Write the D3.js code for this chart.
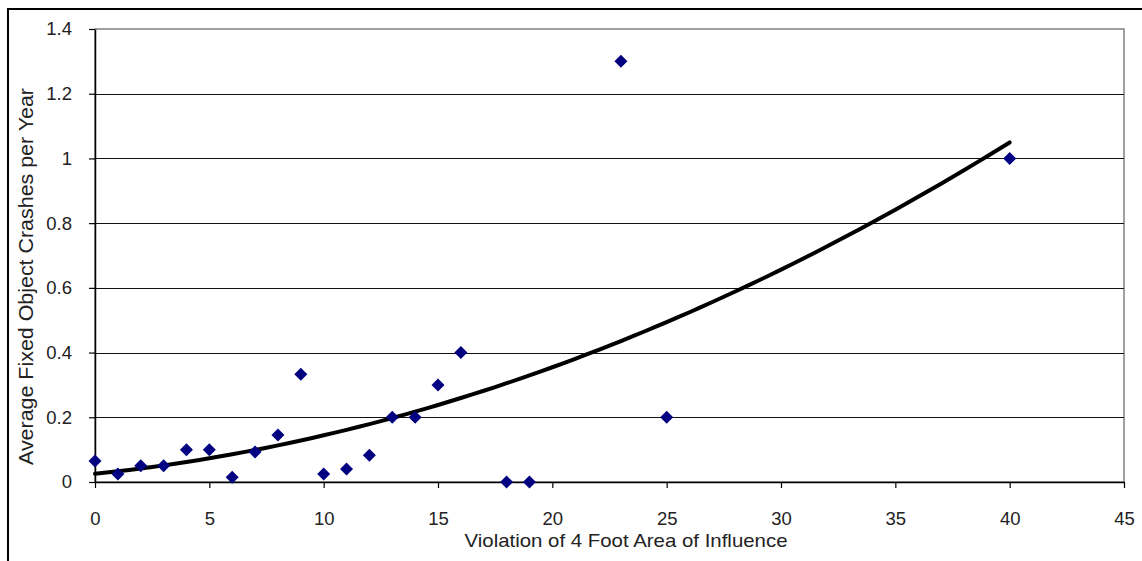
<!DOCTYPE html>
<html lang="en">
<head>
<meta charset="utf-8">
<title>Fixed Object Crashes</title>
<script src="https://d3js.org/d3.v7.min.js"></script>
<style>
  body { margin: 0; background: #fff; }
  text { font-family: "Liberation Sans", Arial, sans-serif; fill: #222; }
</style>
</head>
<body>
<svg width="1142" height="561"></svg>
<script>
// data
const violations = [0, 1, 2, 3, 4, 5, 6, 7, 8, 9, 10, 11, 12, 13, 14, 15, 16, 18, 19, 23, 25, 40];
const crashes = [0.065, 0.025, 0.05, 0.05, 0.1, 0.1, 0.015, 0.093, 0.145, 0.333, 0.025, 0.04,
                 0.083, 0.2, 0.2, 0.3, 0.4, 0, 0, 1.3, 0.2, 1.0];
const xTicks = [0, 5, 10, 15, 20, 25, 30, 35, 40, 45];
const yTicks = [0, 0.2, 0.4, 0.6, 0.8, 1, 1.2, 1.4];

const svg = d3.select("svg");
const plotL = 95, plotR = 1124, plotT = 29, plotB = 482;

const x = d3.scaleLinear().domain([0, 45]).range([plotL, plotR]);
const y = d3.scaleLinear().domain([0, 1.4]).range([plotB, plotT]);

// outer chart frame (cut off at right and bottom)
svg.append("path")
    .attr("d", "M8,561 V9 H1142")
    .attr("fill", "none")
    .attr("stroke", "#000")
    .attr("stroke-width", 2);

// plot area border
svg.append("rect")
    .attr("x", plotL).attr("y", plotT)
    .attr("width", plotR - plotL).attr("height", plotB - plotT)
    .attr("fill", "none")
    .attr("stroke", "#808080")
    .attr("stroke-width", 1.5);

// gridlines
svg.append("g")
    .selectAll("line")
    .data(yTicks.filter(d => d > 0 && d < 1.4))
    .join("line")
    .attr("x1", plotL).attr("x2", plotR)
    .attr("y1", d => Math.round(y(d)) + 0.5)
    .attr("y2", d => Math.round(y(d)) + 0.5)
    .attr("stroke", "#111")
    .attr("stroke-width", 1.2);

// axes
const xAxis = svg.append("g")
    .attr("transform", `translate(0,${plotB})`)
    .call(d3.axisBottom(x).tickValues(xTicks).tickSize(6).tickPadding(24).tickSizeOuter(0));
const yAxis = svg.append("g")
    .attr("transform", `translate(${plotL},0)`)
    .call(d3.axisLeft(y).tickValues(yTicks).tickFormat(d3.format("~g")).tickSize(6).tickPadding(17).tickSizeOuter(0));

[xAxis, yAxis].forEach(g => {
    g.select(".domain").attr("stroke", "#000").attr("stroke-width", 1.5);
    g.selectAll(".tick line").attr("stroke", "#000").attr("stroke-width", 1.2);
    g.selectAll(".tick text")
        .attr("font-family", "Liberation Sans, Arial, sans-serif")
        .attr("font-size", 18.5)
        .attr("fill", "#222");
});

// quadratic trendline, least squares fit of the points
function polyFit2(xs, ys) {
    let s = [0, 0, 0, 0, 0], t = [0, 0, 0];
    xs.forEach((xi, i) => {
        for (let k = 0; k < 5; k++) s[k] += Math.pow(xi, k);
        for (let k = 0; k < 3; k++) t[k] += ys[i] * Math.pow(xi, k);
    });
    const A = [[s[0], s[1], s[2], t[0]], [s[1], s[2], s[3], t[1]], [s[2], s[3], s[4], t[2]]];
    for (let i = 0; i < 3; i++) {
        for (let j = i + 1; j < 3; j++) {
            const f = A[j][i] / A[i][i];
            for (let k = i; k < 4; k++) A[j][k] -= f * A[i][k];
        }
    }
    const c = [0, 0, 0];
    for (let i = 2; i >= 0; i--) {
        let v = A[i][3];
        for (let k = i + 1; k < 3; k++) v -= A[i][k] * c[k];
        c[i] = v / A[i][i];
    }
    return c;
}
const coef = polyFit2(violations, crashes);
const trend = d3.range(0, 40.01, 0.5).map(v => [v, coef[0] + coef[1] * v + coef[2] * v * v]);

svg.append("path")
    .datum(trend)
    .attr("fill", "none")
    .attr("stroke", "#000")
    .attr("stroke-width", 4)
    .attr("stroke-linecap", "round")
    .attr("d", d3.line().x(d => x(d[0])).y(d => y(d[1])));

// points
svg.append("g")
    .selectAll("path")
    .data(violations.map((v, i) => [v, crashes[i]]))
    .join("path")
    .attr("transform", d => `translate(${x(d[0])},${y(d[1])})`)
    .attr("d", "M0,-6.5 L6.5,0 L0,6.5 L-6.5,0 Z")
    .attr("fill", "#000080");

// axis titles
svg.append("text")
    .attr("x", 626).attr("y", 547)
    .attr("text-anchor", "middle")
    .attr("font-size", 19)
    .attr("textLength", 323)
    .attr("lengthAdjust", "spacingAndGlyphs")
    .text("Violation of 4 Foot Area of Influence");

svg.append("text")
    .attr("transform", "translate(33,276.5) rotate(-90)")
    .attr("text-anchor", "middle")
    .attr("font-size", 19.5)
    .attr("textLength", 377)
    .attr("lengthAdjust", "spacingAndGlyphs")
    .text("Average Fixed Object Crashes per Year");
</script>
</body>
</html>
